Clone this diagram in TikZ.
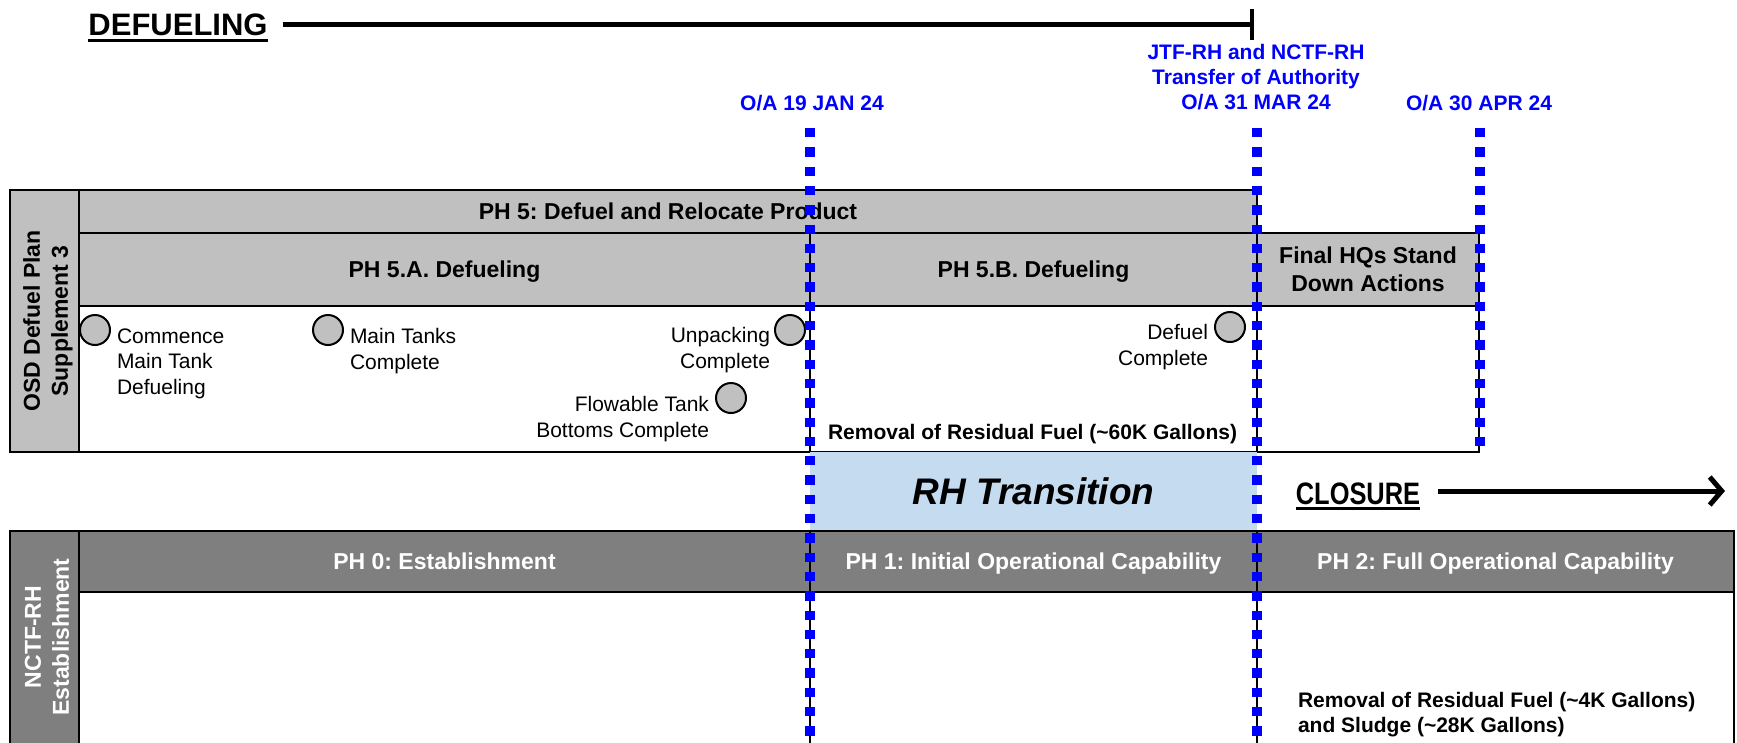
\documentclass[tikz,border=0pt]{standalone}
\usepackage{fontspec}
\usepackage{graphicx}
\setmainfont{Liberation Sans}
\usetikzlibrary{arrows.meta,calc}
\definecolor{lgray}{RGB}{192,192,192}
\definecolor{dgray}{RGB}{127,127,127}
\definecolor{rhblue}{RGB}{197,219,240}
\definecolor{dblue}{RGB}{0,0,255}
\frenchspacing
\begin{document}
\begin{tikzpicture}[x=1pt,y=-1pt,
  every node/.style={inner sep=0pt,outer sep=0pt},
  cell/.style={draw=black,line width=2pt,anchor=north west,align=center},
  hb/.style={font=\fontsize{23}{28}\selectfont\bfseries},
  hbc/.style={hb,text height=16.5pt,text depth=0pt},
  lab/.style={font=\fontsize{21}{25.5}\selectfont},
  labb/.style={font=\fontsize{21}{25}\selectfont\bfseries},
  labbc/.style={labb,text height=15pt,text depth=0pt},
  big/.style={font=\fontsize{31}{36}\selectfont\bfseries,text height=22.2pt,text depth=0pt},
  mile/.style={circle,draw=black,fill=lgray,line width=2pt,minimum size=30pt},
  datel/.style={draw=dblue,line width=9.3pt,dash pattern=on 9.3pt off 10pt},
  thickl/.style={line width=5pt},
  uline/.style={line width=3pt}
]
\path[use as bounding box] (0,0) rectangle (1737,742);
\clip (0,0) rectangle (1737,742);

% ---------- top table ----------
\node[cell,fill=lgray,minimum width=69pt,minimum height=262pt] (osd) at (10,190) {};
\node[cell,fill=lgray,minimum width=1178pt,minimum height=43pt,hbc] (ph5) at (79,190) {PH 5: Defuel and Relocate Product};
\node[cell,fill=lgray,minimum width=731pt,minimum height=73pt,hbc] (ph5a) at (79,233) {PH 5.A. Defueling};
\node[cell,fill=lgray,minimum width=447pt,minimum height=73pt,hbc] (ph5b) at (810,233) {PH 5.B. Defueling};
\node[cell,fill=lgray,minimum width=222pt,minimum height=73pt,hb] (final) at (1257,233) {Final HQs Stand\\Down Actions};
\node[cell,fill=white,minimum width=731pt,minimum height=146pt] (bodya) at (79,306) {};
\node[cell,fill=white,minimum width=447pt,minimum height=146pt] (bodyb) at (810,306) {};
\node[cell,fill=white,minimum width=222pt,minimum height=146pt] (bodyc) at (1257,306) {};
\node[hb,rotate=90,align=center] (osdlbl) at (48,321) {OSD Defuel Plan\\Supplement 3};

% milestones
\node[mile] (m1) at (95,330) {};
\node[lab,anchor=west,align=left] (t1) at (117,363.5) {Commence\\Main Tank\\Defueling};
\node[mile] (m2) at (328,330) {};
\node[lab,anchor=west,align=left] (t2) at (350,351) {Main Tanks\\Complete};
\node[mile] (m3) at (790,330) {};
\node[lab,anchor=east,align=right] (t3) at (770,350) {Unpacking\\Complete};
\node[mile] (m4) at (731,398) {};
\node[lab,anchor=east,align=right] (t4) at (709,419) {Flowable Tank\\Bottoms Complete};
\node[mile] (m5) at (1230,327) {};
\node[lab,anchor=east,align=right] (t5) at (1208,347) {Defuel\\Complete};
\node[labbc,anchor=west] (res60) at (828,432) {Removal of Residual Fuel (\textasciitilde 60K Gallons)};

% ---------- RH transition ----------
\node[anchor=north west,fill=rhblue,minimum width=447pt,minimum height=79pt,
      font=\fontsize{37}{42}\selectfont\bfseries\itshape,text height=26.5pt,text depth=0pt] (rh) at (810,452) {RH Transition};

% ---------- bottom table ----------
\node[cell,fill=dgray,minimum width=69pt,minimum height=240pt] (nctf) at (10,531) {};
\node[cell,fill=dgray,text=white,minimum width=731pt,minimum height=61pt,hbc] (ph0) at (79,531) {PH 0: Establishment};
\node[cell,fill=dgray,text=white,minimum width=447pt,minimum height=61pt,hbc] (ph1) at (810,531) {PH 1: Initial Operational Capability};
\node[cell,fill=dgray,text=white,minimum width=477pt,minimum height=61pt,hbc] (ph2) at (1257,531) {PH 2: Full Operational Capability};
\node[cell,fill=white,minimum width=731pt,minimum height=180pt] (b0) at (79,592) {};
\node[cell,fill=white,minimum width=447pt,minimum height=180pt] (b1) at (810,592) {};
\node[cell,fill=white,minimum width=477pt,minimum height=180pt] (b2) at (1257,592) {};
\node[hb,rotate=90,align=center,text=white] (nctflbl) at (47,637) {NCTF-RH\\Establishment};
\node[labb,anchor=west,align=left] (res4) at (1298,714.7) {Removal of Residual Fuel (\textasciitilde 4K Gallons)\\and Sludge (\textasciitilde 28K Gallons)};

% ---------- DEFUELING / CLOSURE ----------
\node[big] (defl) at (178,24) {DEFUELING};
\draw[uline] ($(defl.south west)+(0,5)$) -- ($(defl.south east)+(0,5)$);
\coordinate (defend) at (1254,24);
\draw[thickl,-{Bar[width=31pt,line width=4.5pt]}] ($(defl.east)+(15,0)$) -- (defend);

\node[big] (clos) at (1358,493) {\scalebox{0.82}[1]{CLOSURE}};
\draw[uline] ($(clos.south west)+(0,4)$) -- ($(clos.south east)+(0,4)$);
\coordinate (closend) at (1725,491);
\draw[thickl,-{Straight Barb[length=12pt,width=28pt,line width=5pt]}] ($(clos.east)+(18,-2)$) -- (closend);

% ---------- dates ----------
\node[labbc,text=dblue] (jan) at (812,103) {O/A 19 JAN 24};
\node[labb,text=dblue,align=center] (mar) at (1256,77) {JTF-RH and NCTF-RH\\Transfer of Authority\\O/A 31 MAR 24};
\node[labbc,text=dblue] (apr) at (1479,103) {O/A 30 APR 24};

\coordinate (d1t) at (810,128); \coordinate (d1b) at (810,760);
\coordinate (d2t) at (1257,128); \coordinate (d2b) at (1257,760);
\coordinate (d3t) at (1480,128); \coordinate (d3b) at (1480,446);
\draw[datel] (d1t) -- (d1b);
\draw[datel] (d2t) -- (d2b);
\draw[datel] (d3t) -- (d3b);
\end{tikzpicture}
\end{document}
